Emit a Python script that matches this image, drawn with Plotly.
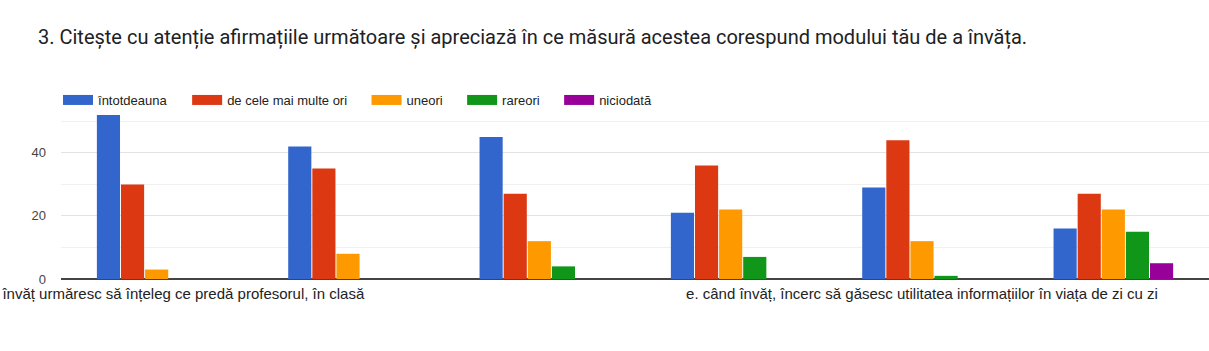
import plotly.graph_objects as go

title_text = "3. Citește cu atenție afirmațiile următoare și apreciază în ce măsură acestea corespund modului tău de a învăța."

categories = [
    "a. când învăț urmăresc să înțeleg ce predă profesorul, în clasă",
    "b.",
    "c.",
    "d.",
    "e. când învăț, încerc să găsesc utilitatea informațiilor în viața de zi cu zi",
    "f.",
]
shown_labels = [0, 4]

series_names = ["întotdeauna", "de cele mai multe ori", "uneori", "rareori", "niciodată"]
intotdeauna = [52, 42, 45, 21, 29, 16]
de_cele_mai_multe_ori = [30, 35, 27, 36, 44, 27]
uneori = [3, 8, 12, 22, 12, 22]
rareori = [0, 0, 4, 7, 1, 15]
niciodata = [0, 0, 0, 0, 0, 5]
series_values = [intotdeauna, de_cele_mai_multe_ori, uneori, rareori, niciodata]
colors = ["#3366cc", "#dc3912", "#ff9900", "#109618", "#990099"]

y_ticks = [0, 20, 40]

PAD = "\u00a0" * 4  # spacing after each legend entry

fig = go.Figure()
for name, vals, col in zip(series_names, series_values, colors):
    fig.add_trace(go.Bar(
        x=categories, y=vals, name=name, legendgroup=name, showlegend=False,
        marker=dict(color=col, line=dict(width=0)),
        hoverinfo="x+y+name",
    ))
# legend entries drawn as wide rectangles (thick line symbols), no data marks
for name, col in zip(series_names, colors):
    fig.add_trace(go.Scatter(
        x=[None], y=[None], mode="lines", name=name + PAD, legendgroup=name,
        line=dict(color=col, width=10), hoverinfo="skip",
    ))

fig.update_layout(
    width=1209, height=351,
    margin=dict(l=61, r=0, t=115, b=72, autoexpand=False),
    paper_bgcolor="white", plot_bgcolor="white",
    barmode="group", bargap=0.37, bargroupgap=0.04,
    title=dict(
        text=title_text, x=38 / 1209, xref="container", xanchor="left",
        y=1 - 37 / 351, yref="container", yanchor="middle",
        font=dict(family="Roboto, sans-serif", size=20, color="#202124"),
    ),
    legend=dict(
        orientation="h", x=-0.0026, xanchor="left", y=1, yanchor="bottom",
        font=dict(family="Liberation Sans, Arial, sans-serif", size=13, color="#222222"),
        bgcolor="rgba(0,0,0,0)", traceorder="normal",
    ),
    xaxis=dict(
        type="category", range=[-0.5, len(categories) - 0.5], automargin=False,
        tickvals=[categories[i] for i in shown_labels],
        ticktext=[categories[i] for i in shown_labels],
        tickfont=dict(family="Liberation Sans, Arial, sans-serif", size=15, color="#222222"),
        showgrid=False, zeroline=False, showline=False, ticks="",
        tickangle=0, ticklabelstandoff=4,
    ),
    yaxis=dict(
        range=[0, 52], tickvals=y_ticks, ticktext=[str(v) for v in y_ticks],
        automargin=False,
        showgrid=True, gridcolor="#e3e3e3", gridwidth=1,
        zeroline=True, zerolinecolor="#444444", zerolinewidth=1.5,
        minor=dict(dtick=10, showgrid=True, gridcolor="#f0f0f0", gridwidth=1),
        tickfont=dict(family="Liberation Sans, Arial, sans-serif", size=13, color="#444444"),
        ticks="", ticklabelstandoff=14,
    ),
    showlegend=True,
)

fig.write_html("out.html")
